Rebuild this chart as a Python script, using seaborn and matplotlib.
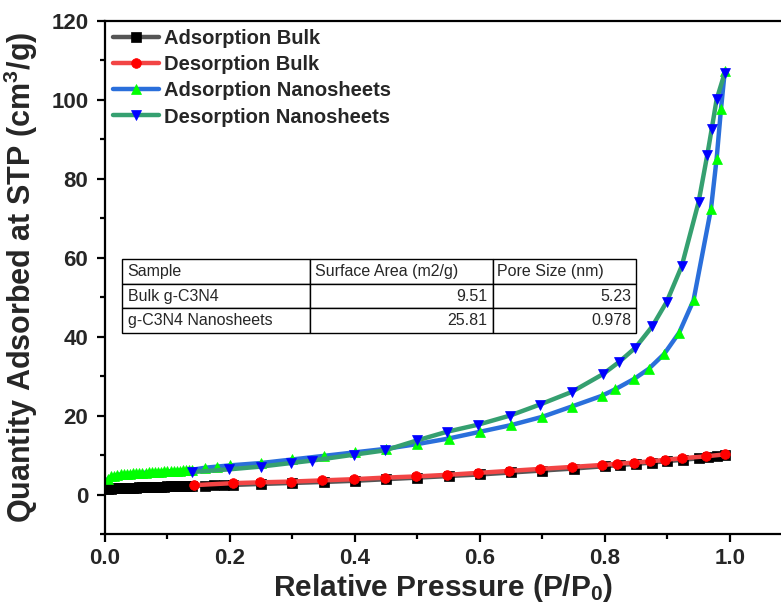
import matplotlib
matplotlib.use("Agg")
import matplotlib.pyplot as plt
import seaborn as sns
import pandas as pd
from matplotlib.ticker import MultipleLocator

# ---------------- data ----------------
# Adsorption Bulk
ads_bulk_p = [0.005, 0.010, 0.015, 0.020, 0.025, 0.030, 0.035, 0.040, 0.045, 0.050,
              0.055, 0.060, 0.065, 0.070, 0.075, 0.080, 0.085, 0.090, 0.095, 0.100,
              0.105, 0.110, 0.115, 0.120, 0.125, 0.130, 0.135, 0.140,
              0.160, 0.175, 0.190, 0.205, 0.250, 0.300, 0.350, 0.400, 0.450, 0.500,
              0.550, 0.600, 0.650, 0.700, 0.750, 0.800, 0.825, 0.850, 0.875, 0.900,
              0.925, 0.950, 0.965, 0.980, 0.993]
ads_bulk_v = [1.4, 1.5, 1.55, 1.6, 1.62, 1.65, 1.68, 1.72, 1.75, 1.78,
              1.8, 1.83, 1.86, 1.89, 1.92, 1.95, 1.98, 2.0, 2.03, 2.06,
              2.08, 2.1, 2.12, 2.15, 2.17, 2.2, 2.22, 2.25,
              2.3, 2.35, 2.4, 2.45, 2.7, 2.95, 3.2, 3.5, 3.9, 4.3,
              4.7, 5.1, 5.6, 6.1, 6.6, 7.2, 7.5, 7.8, 8.1, 8.5,
              8.8, 9.2, 9.4, 9.8, 10.1]

# Desorption Bulk
des_bulk_p = [0.993, 0.962, 0.923, 0.896, 0.872, 0.846, 0.820, 0.795, 0.747, 0.696,
              0.647, 0.597, 0.547, 0.498, 0.448, 0.398, 0.348, 0.298, 0.248, 0.205, 0.143]
des_bulk_v = [10.2, 9.7, 9.2, 8.8, 8.4, 8.1, 7.8, 7.5, 7.0, 6.5,
              6.0, 5.5, 5.0, 4.6, 4.3, 3.9, 3.6, 3.3, 3.1, 2.9, 2.4]

# Adsorption Nanosheets
ads_nano_p = [0.005, 0.010, 0.015, 0.020, 0.025, 0.030, 0.035, 0.040, 0.045, 0.050,
              0.055, 0.060, 0.065, 0.070, 0.075, 0.080, 0.085, 0.090, 0.095, 0.100,
              0.105, 0.110, 0.115, 0.120, 0.125, 0.130, 0.135, 0.140,
              0.160, 0.180, 0.200, 0.250, 0.300, 0.350, 0.400, 0.450, 0.500,
              0.550, 0.600, 0.650, 0.700, 0.747, 0.795, 0.817, 0.847, 0.870,
              0.895, 0.919, 0.942, 0.970, 0.979, 0.986, 0.992]
ads_nano_v = [4.0, 4.6, 4.8, 5.0, 5.1, 5.2, 5.25, 5.3, 5.35, 5.4,
              5.45, 5.5, 5.55, 5.6, 5.65, 5.7, 5.75, 5.8, 5.85, 5.9,
              5.95, 6.0, 6.05, 6.1, 6.15, 6.2, 6.25, 6.3,
              6.8, 7.1, 7.4, 8.0, 8.9, 9.8, 10.7, 11.6, 12.8,
              14.2, 15.9, 17.6, 19.7, 22.3, 25.0, 26.7, 29.3, 31.8,
              35.6, 41.0, 49.2, 72.4, 85.1, 97.7, 107.2]

# Desorption Nanosheets
des_nano_p = [0.992, 0.979, 0.971, 0.964, 0.950, 0.923, 0.899, 0.876, 0.849, 0.823,
              0.797, 0.747, 0.696, 0.648, 0.597, 0.547, 0.499, 0.448, 0.398, 0.331,
              0.298, 0.250, 0.199, 0.139]
des_nano_v = [106.8, 100.1, 92.5, 86.0, 74.0, 57.8, 48.8, 42.6, 37.2, 33.6,
              30.5, 26.0, 22.8, 20.0, 17.7, 15.9, 13.7, 11.2, 10.1, 8.6,
              8.0, 7.1, 6.4, 5.7]

# Table
table_cols = ["Sample", "Surface Area (m2/g)", "Pore Size (nm)"]
table_samples = ["Bulk g-C3N4", "g-C3N4 Nanosheets"]
table_area = ["9.51", "25.81"]
table_pore = ["5.23", "0.978"]

series_labels = ["Adsorption Bulk", "Desorption Bulk",
                 "Adsorption Nanosheets", "Desorption Nanosheets"]

# ---------------- style ----------------
sns.set_theme(style="white")
plt.rcParams['font.family'] = ['Liberation Sans', 'DejaVu Sans']
plt.rcParams['mathtext.fontset'] = 'custom'
plt.rcParams['mathtext.rm'] = 'Liberation Sans:bold'
plt.rcParams['mathtext.bf'] = 'Liberation Sans:bold'
plt.rcParams['mathtext.it'] = 'Liberation Sans:bold'

fig = plt.figure(figsize=(7.81, 6.09), dpi=100)
ax = fig.add_axes([0.1344, 0.123, 0.8656, 0.843])

styles = [
    dict(color="#555555", marker="s", mfc="black", mec="black"),
    dict(color="#f24545", marker="o", mfc="#ff0000", mec="#ff0000"),
    dict(color="#2a6fdb", marker="^", mfc="#00ff00", mec="#00ff00"),
    dict(color="#35a070", marker="v", mfc="#0000ff", mec="#0000ff"),
]
xs = [ads_bulk_p, des_bulk_p, ads_nano_p, des_nano_p]
ys = [ads_bulk_v, des_bulk_v, ads_nano_v, des_nano_v]

for x, y, lab, st in zip(xs, ys, series_labels, styles):
    df = pd.DataFrame({"P": x, "V": y})
    sns.lineplot(data=df, x="P", y="V", ax=ax, sort=False, estimator=None,
                 color=st["color"], linewidth=3.2, marker=st["marker"],
                 markersize=7, markerfacecolor=st["mfc"], markeredgecolor=st["mec"],
                 markeredgewidth=0.5, label=lab)

ax.set_xlim(0, 1.082)
ax.set_ylim(-10, 120)
ax.xaxis.set_major_locator(MultipleLocator(0.2))
ax.xaxis.set_minor_locator(MultipleLocator(0.1))
ax.yaxis.set_major_locator(MultipleLocator(20))
ax.yaxis.set_minor_locator(MultipleLocator(10))
ax.set_xticks([0.0, 0.2, 0.4, 0.6, 0.8, 1.0])
ax.set_xticklabels(["0.0", "0.2", "0.4", "0.6", "0.8", "1.0"])
ax.set_yticks([0, 20, 40, 60, 80, 100, 120])

for s in ["left", "bottom", "top"]:
    ax.spines[s].set_visible(True)
    ax.spines[s].set_linewidth(1.6)
    ax.spines[s].set_color("black")
ax.spines["right"].set_visible(False)

ax.tick_params(axis="both", which="major", direction="out", length=6, width=1.6,
               labelsize=16, color="black", bottom=True, left=True, top=False, right=False)
ax.tick_params(axis="both", which="minor", direction="out", length=3.5, width=1.6,
               color="black", bottom=True, left=True, top=False, right=False)
ax.tick_params(axis="y", which="major", pad=6)
ax.tick_params(axis="x", which="major", pad=4)
for t in ax.get_xticklabels() + ax.get_yticklabels():
    t.set_fontweight("bold")

ax.set_xlabel(r"Relative Pressure (P/P$_{\mathbf{0}}$)", fontsize=21.5, fontweight="bold", labelpad=2)
ax.set_ylabel(r"Quantity Adsorbed at STP (cm$^{\mathbf{3}}$/g)", fontsize=22, fontweight="bold", labelpad=8)
ax.grid(False)

leg = ax.legend(loc="upper left", bbox_to_anchor=(0.0, 1.0), frameon=False,
                prop={"weight": "bold", "size": 14.5}, handlelength=2.3,
                handletextpad=0.25, labelspacing=0.36, borderaxespad=0.1,
                borderpad=0.3)

# table
cell_text = [[table_samples[i], table_area[i], table_pore[i]] for i in range(len(table_samples))]
tbl = ax.table(cellText=cell_text, colLabels=table_cols, cellLoc="left",
               colWidths=[0.366, 0.356, 0.278],
               bbox=[0.0251, 0.3915, 0.760, 0.1445])
tbl.auto_set_font_size(False)
for (r, c), cell in tbl.get_celld().items():
    cell.set_linewidth(1.0)
    cell.set_edgecolor("black")
    cell.get_text().set_fontsize(11.5)
    cell.PAD = 0.03
    if r > 0 and c > 0:
        cell.get_text().set_horizontalalignment("right")
    else:
        cell.get_text().set_horizontalalignment("left")

fig.savefig("out.png", dpi=100)
